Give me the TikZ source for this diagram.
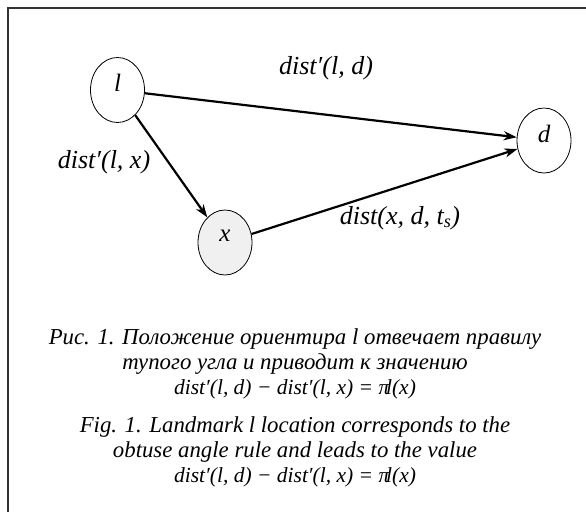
\documentclass[tikz,border=0pt]{standalone}
\usepackage{fontspec}
\setmainfont{Liberation Serif}
\usetikzlibrary{shapes.geometric,arrows.meta}
\tikzset{
  vertex/.style={draw,ellipse,line width=0.8pt,minimum width=54pt,minimum height=65pt,
    inner sep=0pt,text depth=14pt,font=\fontsize{25}{28}\selectfont\itshape},
  link/.style={line width=2.2pt,-{Stealth[length=13pt,width=9pt,inset=4pt]}},
  lbl/.style={font=\fontsize{26}{30}\selectfont\itshape},
  capt/.style={align=center,font=\fontsize{22.8}{25}\selectfont\itshape}
}
\newcommand\captformula{{\fontsize{21.5}{25}\selectfont dist′(l, d) − dist′(l, x) = π\kern-0.15em l(x)}}
\begin{document}
\begin{tikzpicture}[x=1pt,y=-1pt]
	\useasboundingbox (0,0) rectangle (586,512);
	\draw[line width=1.5pt,black!80] (586,8) -- (8,8) -- (8,512);
	% landmark, destination and intermediate point
	\node[vertex] (l) at (117.5,90) {l};
	\node[vertex] (d) at (544,140.5) {d};
	\node[vertex,fill=black!6] (x) at (225,242.5) {x};
	\draw[link] (l) -- (d);
	\draw[link] (l) -- (x);
	\draw[link] (x) -- (d);
	\node[lbl] (ld) at (326,68) {dist′(l, d)};
	\node[lbl] (lx) at (104,162) {dist′(l, x)};
	\node[lbl] (xd) at (400,218) {dist(x, d, t\textsubscript{s})};
	% caption
	\node[capt] (ru) at (295,364) {Рис. 1. Положение ориентира l отвечает правилу\\
		тупого угла и приводит к значению\\
		\captformula};
	\node[capt] (en) at (295,452) {Fig. 1. Landmark l location corresponds to the\\
		obtuse angle rule and leads to the value\\
		\captformula};
\end{tikzpicture}
\end{document}
